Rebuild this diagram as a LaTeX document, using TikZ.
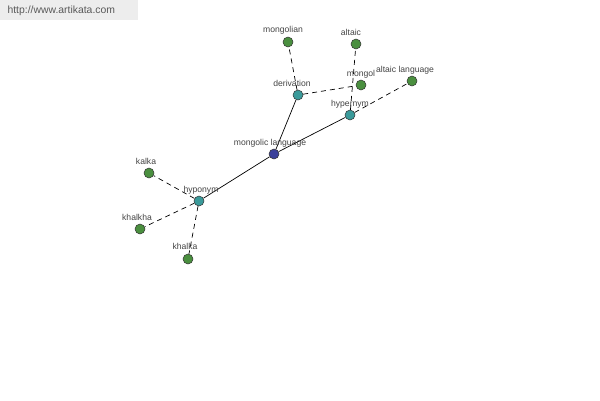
\documentclass[tikz,border=0pt]{standalone}
\usepackage{fontspec}
\setmainfont{Liberation Sans}
\usetikzlibrary{positioning}
\definecolor{rootblue}{HTML}{3A3F9A}
\definecolor{reltieal}{HTML}{3A9A9A}
\definecolor{wordgreen}{HTML}{4A8F3F}
\definecolor{labelgray}{HTML}{444444}

\begin{document}
\begin{tikzpicture}[x=1pt,y=-1pt,draw=black]
    \tikzstyle{word}=[circle,minimum size=10pt,inner sep=0pt,draw=black!80,line width=0.5pt]
    \tikzstyle{root word}=[word, fill=rootblue];
    \tikzstyle{relation}=[word, fill=reltieal];
    \tikzstyle{leaf word}=[word, fill=wordgreen];
    \tikzstyle{annot}=[font=\fontsize{8.6}{9}\selectfont, text=labelgray, inner sep=0pt, anchor=base]
    \tikzstyle{link}=[line width=0.7pt]
    \tikzstyle{weak link}=[link, dash pattern=on 5pt off 4pt]

    % canvas and watermark
    \useasboundingbox[fill=white] (0,0) rectangle (600,400);
    \fill[black!7] (0,0) rectangle (138,20);
    \node[font=\fontsize{10.4}{11}\selectfont, text=black!65, anchor=west] (site) at (4,11) {http://www.artikata.com};

    % nodes
    \node[root word] (mongolic) at (274,154) {};
    \node[relation] (deriv) at (298,95) {};
    \node[relation] (hyper) at (350,115) {};
    \node[relation] (hypo) at (199,201) {};

    \node[leaf word] (mongolian) at (288,42) {};
    \node[leaf word] (mongol) at (361,85) {};
    \node[leaf word] (altaic) at (356,44) {};
    \node[leaf word] (altaiclang) at (412,81) {};
    \node[leaf word] (kalka) at (149,173) {};
    \node[leaf word] (khalkha) at (140,229) {};
    \node[leaf word] (khalka) at (188,259) {};

    % links
    \draw[link] (mongolic) -- (deriv);
    \draw[link] (mongolic) -- (hyper);
    \draw[link] (mongolic) -- (hypo);
    \draw[weak link] (deriv) -- (mongolian);
    \draw[weak link] (deriv) -- (mongol);
    \draw[weak link] (hyper) -- (altaic);
    \draw[weak link] (hyper) -- (altaiclang);
    \draw[weak link] (hypo) -- (kalka);
    \draw[weak link] (hypo) -- (khalkha);
    \draw[weak link] (hypo) -- (khalka);

    % labels
    \node[annot] (l-mongolic) at ([xshift=-4pt,yshift=9pt]mongolic.center) {mongolic language};
    \node[annot] (l-deriv) at ([xshift=-6pt,yshift=9pt]deriv.center) {derivation};
    \node[annot] (l-hyper) at ([xshift=0pt,yshift=9pt]hyper.center) {hypernym};
    \node[annot] (l-hypo) at ([xshift=2pt,yshift=9pt]hypo.center) {hyponym};
    \node[annot] (l-mongolian) at ([xshift=-5pt,yshift=10pt]mongolian.center) {mongolian};
    \node[annot] (l-mongol) at ([xshift=0pt,yshift=9pt]mongol.center) {mongol};
    \node[annot] (l-altaic) at ([xshift=-5pt,yshift=9pt]altaic.center) {altaic};
    \node[annot] (l-altaiclang) at ([xshift=-7pt,yshift=9pt]altaiclang.center) {altaic language};
    \node[annot] (l-kalka) at ([xshift=-3pt,yshift=9pt]kalka.center) {kalka};
    \node[annot] (l-khalkha) at ([xshift=-3pt,yshift=9pt]khalkha.center) {khalkha};
    \node[annot] (l-khalka) at ([xshift=-3pt,yshift=10pt]khalka.center) {khalka};
\end{tikzpicture}
\end{document}
